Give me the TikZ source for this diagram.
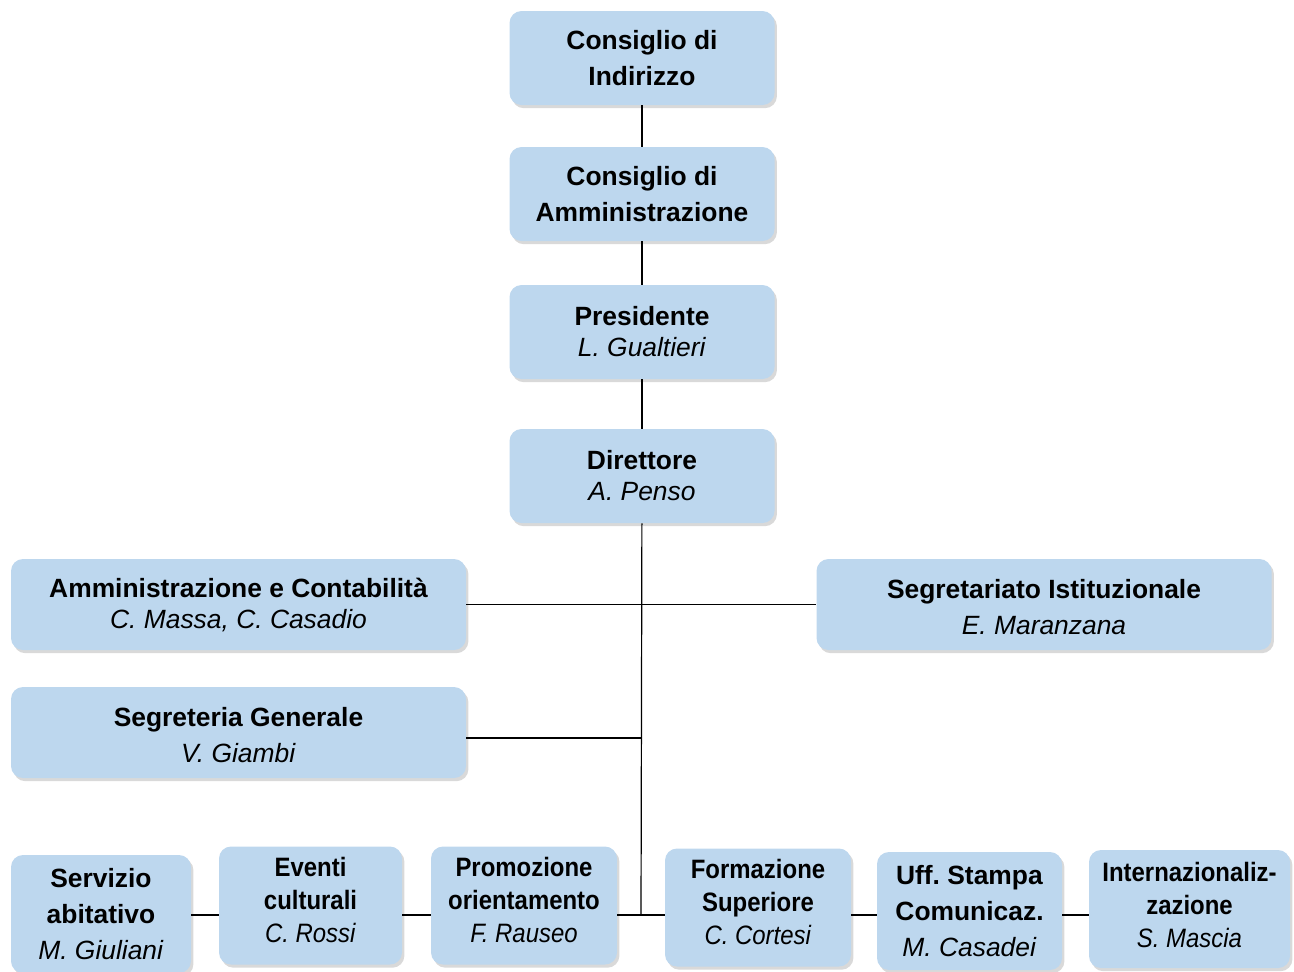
\documentclass[tikz,border=0pt]{standalone}
\usepackage{fontspec}
\setmainfont{Liberation Sans}
\newfontfamily\condfont{Liberation Sans}[FakeStretch=0.9]
\usetikzlibrary{positioning,shadows}
\definecolor{OrgBlue}{HTML}{BDD7EE}
\tikzset{box/.style={fill=OrgBlue,rounded corners=6pt,align=center,inner sep=2pt,
    drop shadow={shadow xshift=1.2pt,shadow yshift=-1.6pt,opacity=0.3},
    font=\fontsize{13.2}{18}\selectfont}}
\frenchspacing

\begin{document}
\begin{tikzpicture}[x=0.5pt,y=-0.5pt,
    topbox/.style={box, minimum width=132.5pt, minimum height=47pt},
    sidebox/.style={box, minimum width=227.5pt, minimum height=45.5pt},
    unitbox/.style={box, minimum height=59pt, text depth=5.5pt, font=\condfont\fontsize{13.3}{16.5}\selectfont},
    link/.style={line width=0.9pt},
    thin/.style={line width=0.6pt}]
\useasboundingbox (0,0) rectangle (1294,971);

% vertical chain
\node[topbox] (indirizzo) at (642,58) {\textbf{Consiglio di}\\\textbf{Indirizzo}};
\node[topbox] (cda) at (642,194) {\textbf{Consiglio di}\\\textbf{Amministrazione}};
\node[topbox] (presidente) at (642,332) {\textbf{Presidente}\\[-2.5pt]\textit{L. Gualtieri}};
\node[topbox] (direttore) at (642,476) {\textbf{Direttore}\\[-2.5pt]\textit{A. Penso}};

% staff offices
\node[sidebox] (contab) at (238.5,604.5) {\textbf{Amministrazione e Contabilità}\\[-2.5pt]\textit{C. Massa, C. Casadio}};
\node[sidebox, text height=30.6pt] (segist) at (1044,604.5) {\textbf{Segretariato Istituzionale}\\\textit{E. Maranzana}};
\node[sidebox, text height=30.6pt] (seggen) at (238.5,732.5) {\textbf{Segreteria Generale}\\\textit{V. Giambi}};

% units
\node[unitbox, minimum width=90pt, text depth=0pt, font=\fontsize{13.2}{18}\selectfont] (abitativo) at (101,914) {\textbf{Servizio}\\\textbf{abitativo}\\\textit{M. Giuliani}};
\node[unitbox, minimum width=91.5pt] (eventi) at (310.5,905.5) {\textbf{Eventi}\\\textbf{culturali}\\\textit{C. Rossi}};
\node[unitbox, minimum width=93pt] (promozione) at (524,905.5) {\textbf{Promozione}\\\textbf{orientamento}\\\textit{F. Rauseo}};
\node[unitbox, minimum width=93pt] (formazione) at (758,907.5) {\textbf{Formazione}\\\textbf{Superiore}\\\textit{C. Cortesi}};
\node[unitbox, minimum width=92.5pt, text depth=0pt, font=\fontsize{13.2}{18}\selectfont] (stampa) at (969.5,911) {\textbf{Uff. Stampa}\\\textbf{Comunicaz.}\\\textit{M. Casadei}};
\node[unitbox, minimum width=100.5pt, text depth=4.5pt] (internaz) at (1189.5,909) {\textbf{Internazionaliz-}\\\textbf{zazione}\\\textit{S. Mascia}};

\coordinate (jseg) at (641,738);
\coordinate (bus) at (641,915);

% lines
\draw[thin] (indirizzo) -- (cda);
\draw[thin] (cda) -- (presidente);
\draw[thin] (presidente) -- (direttore);
\draw[thin] (direttore) -- (bus);

\draw[link] (contab) -- (segist);
\draw[link] (jseg -| seggen.east) -- (jseg);
\draw[link] (bus -| promozione.east) -- (bus -| formazione.west);

\draw[link] (bus -| abitativo.east) -- (bus -| eventi.west);
\draw[link] (bus -| eventi.east) -- (bus -| promozione.west);
\draw[link] (bus -| formazione.east) -- (bus -| stampa.west);
\draw[link] (bus -| stampa.east) -- (bus -| internaz.west);
\end{tikzpicture}
\end{document}
